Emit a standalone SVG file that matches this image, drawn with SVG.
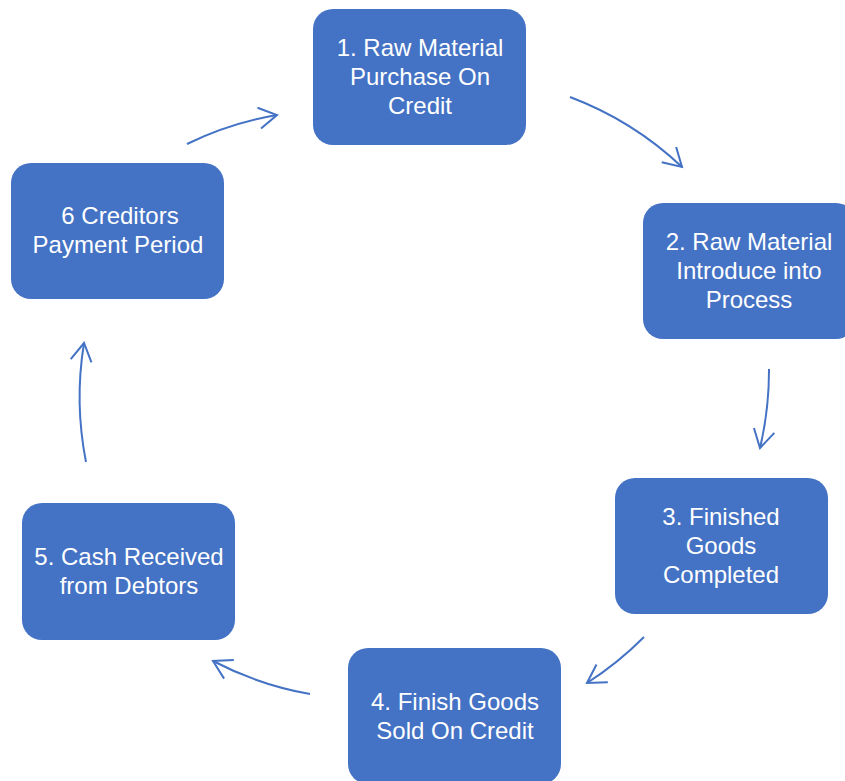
<svg xmlns="http://www.w3.org/2000/svg" width="845" height="781" viewBox="0 0 845 781">
<style>
.box{fill:#4472C4;}
.lbl{font-family:"Liberation Sans",Arial,sans-serif;font-size:24px;fill:#FFFFFF;text-anchor:middle;}
.arr{fill:none;stroke:#4472C4;stroke-width:2;marker-end:url(#head);}
</style>
<defs>
<marker id="head" markerUnits="userSpaceOnUse" markerWidth="26" markerHeight="26" viewBox="-22 -13 26 26" refX="0" refY="0" orient="auto">
<path d="M-18,-10.5 L0,0 L-18,10.5" fill="none" stroke="#4472C4" stroke-width="2"/>
</marker>
</defs>
<rect width="845" height="781" fill="#FFFFFF"/>
<g id="connectors">
<path class="arr" d="M570,97 A335,335 0 0 1 682,167"/>
<path class="arr" d="M769,369 A335,335 0 0 1 760,448"/>
<path class="arr" d="M644,637 A335,335 0 0 1 587,683"/>
<path class="arr" d="M310,694 A335,335 0 0 1 213,661"/>
<path class="arr" d="M86,462 A335,335 0 0 1 84,343"/>
<path class="arr" d="M187,144 A335,335 0 0 1 277,115"/>
</g>
<g id="node1">
<rect class="box" x="313" y="9" width="213" height="136" rx="20"/>
<text class="lbl" x="420" y="56">1. Raw Material</text>
<text class="lbl" x="420" y="85">Purchase On</text>
<text class="lbl" x="420" y="114">Credit</text>
</g>
<g id="node2">
<rect class="box" x="643" y="203" width="213" height="136" rx="20"/>
<text class="lbl" x="749" y="250">2. Raw Material</text>
<text class="lbl" x="749" y="279">Introduce into</text>
<text class="lbl" x="749" y="308">Process</text>
</g>
<g id="node3">
<rect class="box" x="615" y="478" width="213" height="136" rx="20"/>
<text class="lbl" x="721" y="525">3. Finished</text>
<text class="lbl" x="721" y="554">Goods</text>
<text class="lbl" x="721" y="583">Completed</text>
</g>
<g id="node4">
<rect class="box" x="348" y="648" width="213" height="136" rx="20"/>
<text class="lbl" x="455" y="710">4. Finish Goods</text>
<text class="lbl" x="455" y="739">Sold On Credit</text>
</g>
<g id="node5">
<rect class="box" x="22" y="503" width="213" height="137" rx="20"/>
<text class="lbl" x="129" y="565">5. Cash Received</text>
<text class="lbl" x="129" y="594">from Debtors</text>
</g>
<g id="node6">
<rect class="box" x="11" y="163" width="213" height="136" rx="20"/>
<text class="lbl" x="120" y="224">6 Creditors</text>
<text class="lbl" x="118" y="253">Payment Period</text>
</g>
</svg>
